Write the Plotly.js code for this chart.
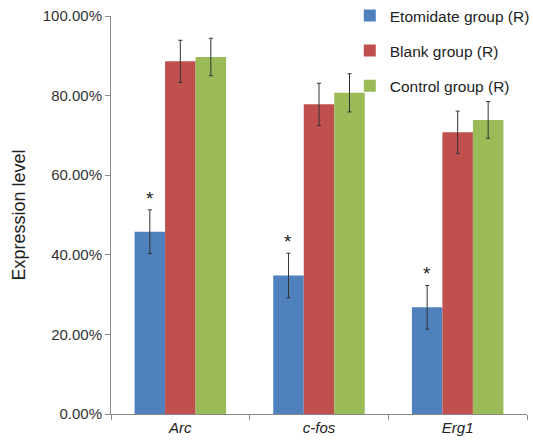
<!DOCTYPE html>
<html>
<head>
<meta charset="utf-8">
<script src="https://cdn.plot.ly/plotly-3.0.1.min.js"></script>
<style>html,body{margin:0;padding:0;background:#fff;}#chart{width:533px;height:445px;}</style>
</head>
<body>
<div id="chart"></div>
<script>
const categories = ['Arc', 'c-fos', 'Erg1'];
const seriesNames = ['Etomidate group (R)', 'Blank group (R)', 'Control group (R)'];
const etomidate = [45.8, 34.8, 26.8];
const etomidateErr = [5.5, 5.6, 5.5];
const blank = [88.6, 77.8, 70.8];
const blankErr = [5.3, 5.3, 5.3];
const control = [89.7, 80.7, 73.9];
const controlErr = [4.7, 4.8, 4.6];
const colors = ['#4F81BD', '#C0504D', '#9BBB59'];
const significant = ['*', '*', '*'];

const values = [etomidate, blank, control];
const errs = [etomidateErr, blankErr, controlErr];
const font = 'Liberation Sans, Arial, sans-serif';

const traces = values.map((v, i) => ({
  type: 'bar',
  name: seriesNames[i],
  x: categories,
  y: v,
  legendgroup: 'g' + i,
  marker: {color: colors[i], line: {width: 0}},
  error_y: {type: 'data', array: errs[i], visible: true, color: '#333333', thickness: 1, width: 2}
}));

const bargap = 0.34;
const barW = (1 - bargap) / 3;
const annotations = categories.map((c, j) => ({
  xref: 'x', yref: 'y',
  x: j - barW, y: etomidate[j] + etomidateErr[j],
  text: significant[j], showarrow: false,
  yanchor: 'bottom', yshift: -1,
  font: {family: font, size: 19, color: '#222'}
}));

const layout = {
  width: 533, height: 445,
  margin: {l: 111, r: 6, t: 16, b: 31, autoexpand: false},
  paper_bgcolor: '#fff', plot_bgcolor: '#fff',
  barmode: 'group', bargap: bargap, bargroupgap: 0,
  showlegend: true,
  legend: {x: 0.574, xanchor: 'left', y: 1.043, yanchor: 'top',
           font: {family: font, size: 15.5, color: '#222'},
           tracegroupgap: 12, bgcolor: 'rgba(0,0,0,0)'},
  font: {family: font, color: '#333'},
  xaxis: {
    type: 'category', tickson: 'boundaries', ticks: 'outside', ticklen: 5,
    tickcolor: '#888', showline: true, linecolor: '#888', linewidth: 1,
    showgrid: false, zeroline: false, automargin: false,
    tickfont: {family: font, size: 15, color: '#222', style: 'italic'}
  },
  yaxis: {
    range: [0, 100], dtick: 20, tick0: 0, tickformat: '.2f', ticksuffix: '%',
    ticks: 'outside', ticklen: 5, tickcolor: '#888',
    showline: true, linecolor: '#888', linewidth: 1,
    showgrid: false, zeroline: false, automargin: false,
    tickfont: {family: font, size: 15, color: '#333'},
    title: {text: 'Expression level', font: {family: font, size: 18, color: '#222'}, standoff: 12}
  },
  annotations: annotations
};

Plotly.newPlot('chart', traces, layout, {displayModeBar: false, staticPlot: true});
</script>
</body>
</html>
